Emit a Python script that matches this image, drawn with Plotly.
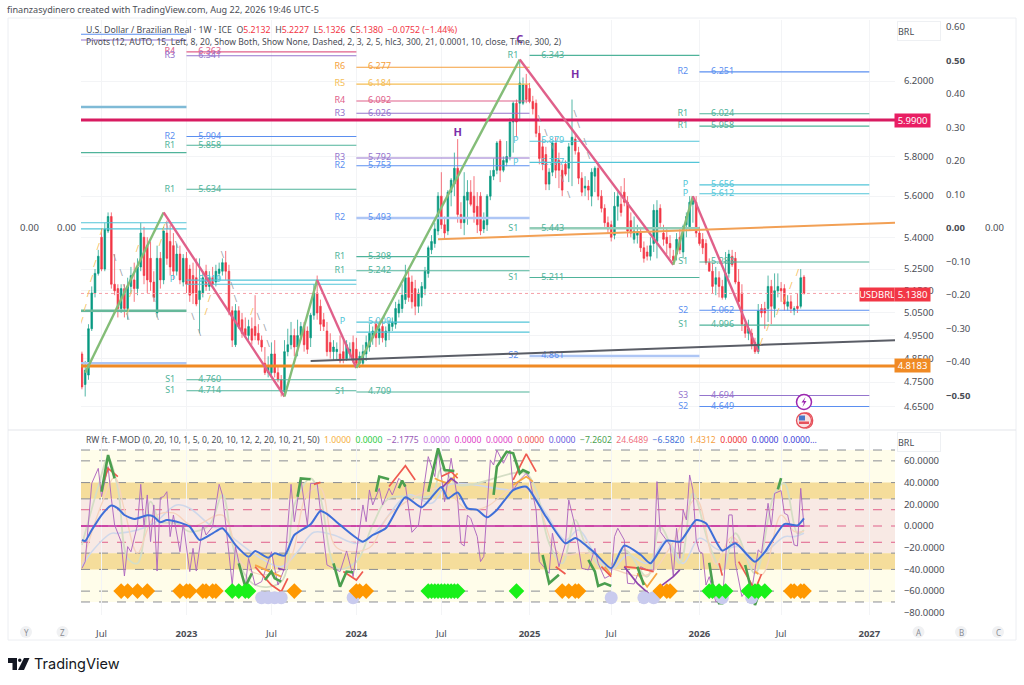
import pandas as pd
import plotly.graph_objects as go

WEEKS_START = "2022-05-23"

# Weekly candles
OPENS = [
    4.87,4.74,4.78,4.98,5.14,5.23,5.40,5.25,5.43,5.50,
    5.18,5.16,5.07,5.16,5.07,5.17,5.20,5.16,5.26,5.40,
    5.36,5.30,5.19,5.05,5.30,5.20,5.42,5.38,5.36,5.24,
    5.32,5.19,5.30,5.25,5.22,5.21,5.11,5.14,5.24,5.17,
    5.21,5.19,5.23,5.24,5.28,5.24,5.06,4.91,5.06,5.02,
    4.98,4.95,4.98,4.99,4.96,4.93,4.83,4.79,4.79,4.87,
    4.79,4.76,4.71,4.88,4.91,4.95,4.90,4.95,4.99,4.97,
    4.94,5.04,5.14,5.08,5.02,4.97,4.92,4.88,4.88,4.87,
    4.88,4.85,4.87,4.92,4.89,4.83,4.83,4.87,4.90,4.94,
    5.00,4.94,4.99,4.93,4.97,4.99,5.00,5.05,5.07,5.11,
    5.21,5.19,5.16,5.08,5.12,5.16,5.23,5.34,5.37,5.43,
    5.60,5.46,5.43,5.62,5.66,5.74,5.51,5.47,5.58,5.62,
    5.60,5.55,5.60,5.44,5.46,5.60,5.70,5.73,5.88,5.73,
    5.77,5.80,5.98,6.08,6.08,6.08,6.18,6.16,6.09,6.08,
    5.92,5.85,5.81,5.66,5.72,5.87,5.78,5.73,5.76,5.74,
    5.86,5.89,5.82,5.69,5.64,5.65,5.60,5.70,5.74,5.60,
    5.54,5.47,5.46,5.41,5.55,5.56,5.62,5.57,5.48,5.39,
    5.41,5.42,5.35,5.33,5.31,5.37,5.38,5.54,5.42,5.40,
    5.37,5.31,5.32,5.40,5.33,5.46,5.45,5.56,5.57,5.42,
    5.39,5.37,5.28,5.24,5.18,5.21,5.17,5.12,5.23,5.31,
    5.30,5.19,5.14,5.00,4.96,4.96,4.92,4.88,5.07,5.07,
    5.07,5.17,5.07,5.15,5.16,5.16,5.08,5.10,5.06,5.08,
    5.08,5.2132,
]
HIGHS = [
    4.88,4.84,5.00,5.17,5.25,5.34,5.44,5.47,5.52,5.52,
    5.32,5.18,5.18,5.18,5.21,5.26,5.28,5.30,5.47,5.45,
    5.40,5.38,5.24,5.36,5.33,5.45,5.48,5.46,5.42,5.37,
    5.36,5.32,5.33,5.27,5.28,5.30,5.30,5.24,5.27,5.24,
    5.26,5.27,5.28,5.30,5.335,5.27,5.08,5.09,5.08,5.05,
    5.03,5.02,5.03,5.13,5.00,4.95,4.90,4.86,4.92,4.93,
    4.82,4.78,4.93,4.98,5.01,4.98,5.02,5.01,5.01,4.99,
    5.05,5.18,5.22,5.11,5.05,5.01,4.96,4.93,4.92,4.95,
    4.93,4.93,4.92,4.95,4.94,4.88,4.91,4.95,5.00,4.99,
    5.02,5.01,5.02,4.99,5.02,5.03,5.10,5.11,5.18,5.27,
    5.24,5.22,5.20,5.16,5.19,5.26,5.36,5.41,5.47,5.62,
    5.72,5.50,5.63,5.69,5.82,5.89,5.57,5.72,5.68,5.68,
    5.70,5.62,5.62,5.52,5.61,5.73,5.79,5.88,5.89,5.80,
    5.88,6.00,6.09,6.10,6.31,6.22,6.24,6.19,6.12,6.10,
    5.96,5.89,5.85,5.74,5.88,5.90,5.82,5.76,5.78,5.87,
    6.10,5.92,5.85,5.72,5.70,5.68,5.74,5.75,5.76,5.63,
    5.56,5.50,5.48,5.62,5.62,5.65,5.69,5.60,5.52,5.50,
    5.46,5.45,5.38,5.36,5.40,5.56,5.58,5.56,5.46,5.44,
    5.41,5.34,5.42,5.44,5.46,5.52,5.60,5.60,5.60,5.45,
    5.42,5.39,5.30,5.28,5.26,5.24,5.20,5.33,5.34,5.34,
    5.33,5.25,5.18,5.02,5.02,4.98,4.94,5.09,5.09,5.10,
    5.22,5.20,5.23,5.23,5.19,5.18,5.13,5.13,5.08,5.14,
    5.25,5.2227,
]
LOWS = [
    4.72,4.69,4.76,4.97,5.12,5.22,5.24,5.24,5.42,5.16,
    5.13,5.03,5.05,5.03,5.02,5.14,5.10,5.13,5.24,5.18,
    5.14,5.15,5.10,5.03,5.16,5.18,5.27,5.22,5.20,5.22,
    5.18,5.17,5.14,5.10,5.09,5.08,4.96,5.12,5.15,5.15,
    5.17,5.17,5.20,5.22,5.20,5.04,4.90,4.90,4.98,4.94,
    4.94,4.93,4.91,4.93,4.91,4.88,4.78,4.77,4.77,4.77,
    4.75,4.69,4.70,4.86,4.89,4.86,4.86,4.93,4.88,4.87,
    4.90,5.02,5.02,4.97,4.97,4.86,4.85,4.84,4.84,4.83,
    4.83,4.84,4.85,4.83,4.81,4.81,4.82,4.84,4.88,4.91,
    4.90,4.91,4.92,4.90,4.93,4.97,4.98,5.03,5.05,5.09,
    5.10,5.07,5.04,5.05,5.08,5.13,5.21,5.32,5.35,5.41,
    5.44,5.39,5.41,5.55,5.60,5.47,5.44,5.41,5.46,5.55,
    5.47,5.42,5.41,5.42,5.43,5.58,5.68,5.71,5.67,5.72,
    5.75,5.78,5.82,5.90,5.99,6.07,6.08,6.08,6.02,5.90,
    5.76,5.73,5.63,5.63,5.70,5.69,5.64,5.60,5.70,5.67,
    5.65,5.81,5.66,5.60,5.60,5.58,5.55,5.62,5.58,5.52,
    5.45,5.42,5.38,5.39,5.48,5.50,5.55,5.40,5.40,5.37,
    5.37,5.33,5.28,5.29,5.29,5.33,5.30,5.44,5.36,5.32,
    5.30,5.28,5.29,5.32,5.30,5.40,5.43,5.47,5.40,5.36,
    5.32,5.27,5.24,5.14,5.13,5.12,5.11,5.11,5.21,5.26,
    5.18,5.09,4.97,4.94,4.93,4.89,4.87,4.87,5.03,4.98,
    5.01,5.00,5.03,5.12,5.10,5.06,5.06,5.05,5.04,5.05,
    5.07,5.1326,
]
CLOSES = [
    4.73,4.80,4.98,5.14,5.23,5.31,5.25,5.44,5.50,5.18,
    5.15,5.07,5.16,5.07,5.17,5.22,5.16,5.26,5.42,5.22,
    5.20,5.19,5.12,5.30,5.20,5.43,5.30,5.26,5.24,5.32,
    5.20,5.30,5.18,5.13,5.14,5.09,5.15,5.21,5.17,5.21,
    5.18,5.24,5.25,5.28,5.24,5.06,4.93,5.06,4.99,4.96,
    4.95,4.99,4.93,4.95,4.93,4.90,4.79,4.82,4.87,4.79,
    4.76,4.71,4.88,4.91,4.95,4.90,4.95,4.99,4.91,4.89,
    5.04,5.14,5.05,5.00,4.99,4.88,4.88,4.90,4.89,4.84,
    4.85,4.91,4.89,4.84,4.83,4.86,4.88,4.92,4.96,4.97,
    4.94,4.98,4.94,4.97,5.00,5.01,5.07,5.09,5.13,5.21,
    5.12,5.10,5.08,5.14,5.17,5.24,5.35,5.38,5.44,5.60,
    5.46,5.42,5.62,5.68,5.74,5.51,5.47,5.60,5.62,5.56,
    5.52,5.46,5.43,5.48,5.60,5.70,5.73,5.87,5.73,5.78,
    5.80,5.98,6.08,5.98,6.19,6.18,6.10,6.09,6.05,5.92,
    5.79,5.76,5.66,5.72,5.87,5.73,5.73,5.63,5.71,5.85,
    5.90,5.83,5.69,5.62,5.65,5.63,5.72,5.74,5.60,5.54,
    5.47,5.44,5.40,5.55,5.60,5.52,5.57,5.43,5.42,5.43,
    5.42,5.35,5.30,5.31,5.36,5.53,5.53,5.47,5.39,5.37,
    5.35,5.29,5.39,5.34,5.45,5.50,5.57,5.58,5.42,5.37,
    5.35,5.28,5.24,5.17,5.21,5.17,5.12,5.23,5.32,5.27,
    5.19,5.10,5.00,4.96,4.98,4.91,4.88,5.06,5.05,5.05,
    5.17,5.08,5.15,5.17,5.15,5.09,5.10,5.07,5.07,5.07,
    5.21,5.1380,
]

# Zigzag pivots: week number into the candles and the price
ZIGZAG_WEEKS = [1, 25, 62, 72, 84, 134, 181, 187, 207]
ZIGZAG_PRICES = [4.79, 5.52, 4.69, 5.20, 4.81, 6.32, 5.27, 5.60, 4.88]

# Small slash marks
UP_WEEKS = [0,1,2,3,4,5,6,14,15,17,24,25,38,39,52,208,210,213,215,217,219]
UP_PRICES = [5.01,5.07,5.13,5.20,5.27,5.35,5.42,5.05,5.13,5.34,5.37,5.44,5.05,5.11,5.05,4.92,4.98,5.05,5.11,5.17,5.23]
DOWN_WEEKS = [10,12,13,14,22,23,26,29,34,36,43,46,47,54,56,57,140,142,144,147,149,151,152,154,155]
DOWN_PRICES = [5.30,5.23,5.16,5.03,5.11,5.03,5.45,5.36,5.03,4.96,5.31,5.17,5.11,5.03,4.98,4.91,5.99,5.92,5.84,5.68,5.60,6.02,5.96,5.87,5.80]

# Pivot levels: which year block, name, level, printed value
PIVOT_BLOCK = [0,0,0,0,0,0,0,0,
               1,1,1,1,1,1,1,1,1,
               2,2,2,2,2,2,2,2,2,2,2,2,
               3,3,3,3,3,3,
               4,4,4,4,4,4,4,4,4,4]
PIVOT_NAME = ["R2","R3","R2","R1","P","P","S1","S2",
              "R4","R3","R2","R1","R1","P","P","S1","S1",
              "R6","R5","R4","R3","R3","R2","R2","R1","R1","P","P","S1",
              "R1","P","P","S1","S1","S2",
              "R2","R1","R1","P","P","S1","S2","S1","S3","S2"]
PIVOT_LEVEL = [6.463,6.43,6.06,5.82,5.47,5.44,5.06,4.83,
               6.363,6.341,5.904,5.858,5.634,5.199,5.18,4.760,4.714,
               6.277,6.184,6.092,6.026,5.792,5.753,5.493,5.308,5.242,5.009,4.965,4.709,
               6.343,5.879,5.77,5.443,5.211,4.861,
               6.251,6.024,5.958,5.656,5.612,5.283,5.062,4.996,4.694,4.649]
PIVOT_TEXT = ["","","","","","","","",
              "6.363","6.341","5.904","5.858","5.634","5.219","","4.760","4.714",
              "6.277","6.184","6.092","6.026","5.792","5.753","5.493","5.308","5.242","5.009","","4.709",
              "6.343","5.879","5.777","5.443","5.211","4.861",
              "6.251","6.024","5.958","5.656","5.612","5.283","5.062","4.996","4.694","4.649"]
BLOCK_STARTS = ["2022-05-21","2023-01-02","2024-01-01","2025-01-06","2026-01-05"]
BLOCK_ENDS = ["2023-01-02","2024-01-01","2025-01-06","2026-01-05","2027-01-04"]

MAIN_TICKS = [6.2,5.8,5.6,5.4,5.25,5.15,5.05,4.95,4.85,4.75,4.65]
SIDE_TICKS = [0.6,0.5,0.4,0.3,0.2,0.1,0,-0.1,-0.2,-0.3,-0.4,-0.5]
OSC_TICKS = [60,40,20,0,-20,-40,-60,-80]
OSC_LEVELS_GRAY = [70,60,25,-25,-60,-70,40,-40]
OSC_LEVELS_PINK = [15,-15,0]

TIME_TICKS = ["2022-07-04","2023-01-02","2023-07-03","2024-01-01","2024-07-01","2025-01-06",
              "2025-06-30","2026-01-05","2026-06-29","2027-01-04"]
TIME_LABELS = ["Jul","<b>2023</b>","Jul","<b>2024</b>","Jul","<b>2025</b>","Jul","<b>2026</b>","Jul","<b>2027</b>"]

# Oscillator lines
BLUE_WEEKS = [0,1,3,6,9,11,13,16,20,22,24,26,30,33,36,40,43,47,51,53,57,59,62,65,70,73,75,79,86,89,93,99,104,110,112,115,118,121,124,127,
              132,136,142,148,151,157,162,166,171,174,179,183,188,191,196,200,206,209,215,219,221]
BLUE_VALUES = [-12.9,-13.8,-3.7,10.1,18.8,16.3,10.1,6.5,9.8,8.6,3.4,5.5,3.1,-0.6,-12.9,-6.8,-2.1,-17.5,-28.3,-23,-29.2,-25.2,-27.3,-8.3,1.6,13.8,11.1,1,-14.4,-8.3,-2.1,26.4,17.2,36,25.5,30.8,16.3,14.8,8,14.8,
               33,36.2,8.6,-16,-11,-25,-39,-18,-26.5,-34.4,-13.5,-14.4,5.5,2.5,-22.7,-16,-33,-24,1.8,0.5,7.1]
PURPLE_WEEKS = [0,1,3,5,6,8,9,10,12,13,14,15,17,18,19,20,21,22,23,24,25,26,27,28,30,31,33,34,35,37,38,40,42,43,45,46,47,48,50,51,53,55,58,60,62,64,65,67,69,70,72,75,76,79,81,83,86,87,88,89,91,92,94,95,97,99,101,103,106,108,109,111,113,115,
                116,117,118,119,121,122,123,124,125,126,127,129,131,132,
                134,136,137,139,140,143,144,146,148,149,151,153,155,157,158,160,162,163,164,166,167,169,171,173,175,176,177,180,181,182,183,184,185,186,187,188,189,190,191,192,194,196,198,199,200,202,204,205,207,208,210,211,212,214,215,216,218,219,220,221]
PURPLE_VALUES = [-39,-32.9,39.3,53.1,27,54.7,25.5,0.9,-14.4,-46.1,-19,-23.7,0.9,38.4,-0.6,28.6,-14.4,19.4,-41.5,26.1,27,31.6,-9.8,10.1,-23.7,2.5,-42,-20.6,-41.5,0.9,-8.3,-0.6,38.4,28.6,-25.2,-54.4,-19,-32.9,-55.9,-29.8,-54.4,-51.3,-23.7,-54.4,-39,38.4,4,43.9,0.9,39.3,39.3,-35.9,-37.5,-42,-23,-46.7,19.4,4,33.2,19.4,34.7,19.4,34.7,28.6,43.9,37.8,-5.8,0.9,63.9,45.5,70,22.4,62.4,24,
                 -16,-18.4,10,7,-9.8,-32.8,-28,14.8,60.9,56.2,70,57.8,70,33,
                 42.4,48.6,44,14.8,-32.8,-43.6,-6.7,-37.5,-16,24,-0.6,-39,-40.5,-20.6,-34.4,-48.2,-45,-9.8,-2.1,-12.9,-52.8,-53.4,-37.5,-40.5,-40.5,40.9,-5.2,-17.5,-46.7,-2.1,-29.8,14.8,5.6,47,33.2,-12.9,-23.6,-25.2,-54.4,-46.7,-69.7,-69.7,10.2,10.2,-34.4,-65,-55.9,-59,-22,-25,20.9,-0.6,30,32.6,11.7,10.2,-17.5,-18.4,34.7,-0.6]
PALE_BLUE_WEEKS = [0,3,9,11,17,22,29,33,40,43,47,54,61,66,71,77,84,89,100,107,112,132,136,142,148,152,158,162,167,173,179,184,189,195,201,206,209,215,218,221]
PALE_BLUE_VALUES = [-37.5,-23.7,-6.8,-6.8,-3.7,2.5,19.4,16.3,-0.6,-2.2,-12.9,-28.3,-37.5,-23.7,-5.8,-8.3,-16,-8.3,28.6,20.9,37.8,33.2,36.3,11.7,-12.9,-3.7,-31.3,-40.5,-26.7,-34.4,-12.9,-34.4,-11.3,-22,-19,-31.3,-25.2,-9.8,-9.8,-6.7]
PALE_GREEN_WEEKS = [0,5,8,11,14,17,21,24,29,33,39,43,47,53,61,65,70,73,78,84,89,94,107,110,115,132,136,139,143,147,151,154,160,166,173,177,183,187,192,196,200,206,212,215,219,221]
PALE_GREEN_VALUES = [-17.5,36.3,62.4,34.7,-29.8,-34.4,22.4,4,2.5,-5.2,0.9,28.6,-26.7,-54.4,-51.3,19.4,43.9,25.5,-39,-32.9,0.9,25.5,28.6,53.1,37.8,48.6,48.6,33.2,-16,-34.4,5.6,-16,-40.5,-22,-46.7,-0.6,-34.4,30.1,-17.5,-40.5,-6.7,-43.6,30.1,39.3,-6.7,-3.7]
PEACH_WEEKS = [0,6,10,13,17,22,28,34,43,49,56,63,69,73,78,88,94,110,118,124,132,138,146,155,163,173,180,188,194,199,208,214,218,221]
PEACH_VALUES = [-35,20,45,15,-25,8,12,0,10,-35,-45,-35,30,35,-20,-20,10,35,15,18,35,30,-25,-25,-40,-45,-20,25,-35,-10,-45,10,-5,-5]

# Coloured fragments, None splits them
GREEN_WEEKS = [6,8,10,None,48,50,52,None,56,58,59,61,None,66,67,70,None,77,79,81,83,None,90,91,94,None,97,98,99,None,106,109,111,114,None,126,127,130,132,134,135,137,None,141,143,146,None,155,157,158,160,162,None,170,172,None,192,193,195,196,197,None,203,206,208,None,213,214]
GREEN_VALUES = [31.6,65.4,43.9,None,-34.4,-55.9,-43.6,None,-49.8,-42,-48.2,-51.3,None,27,43.9,43,None,-34.4,-55.9,-42,-42.7,None,31.6,45.5,43,None,34.7,41.8,36.3,None,31.6,71.6,51.6,50.7,None,28.6,54.7,68.5,67,48.6,51.6,48.6,None,-26.7,-52.8,-45,None,-31.3,-42,-55.3,-52.8,-55.3,None,-37.5,-54.4,None,-33.8,-52.8,-71.2,-71.2,-55.9,None,-35.9,-72.8,-55.9,None,33.8,44]
RED_WEEKS = [6,8,11,None,53,58,61,63,None,71,73,None,80,84,86,None,94,99,102,None,110,113,115,None,132,136,139,None,145,148,None,159,162,None,166,171,175,None,195,196,None,201,206,208]
RED_VALUES = [34.7,53.1,45.5,None,-37.5,-54.4,-60.5,-48.2,None,38.4,40.2,None,-42,-49.8,-42,None,36.3,55.6,42.4,None,45.5,50,44,None,42.4,66.4,50.1,None,-37.5,-44.2,None,-37.5,-46.7,None,-37.5,-39,-42,None,-34.4,-45.7,None,-32.8,-59,-44.2]
ORANGE_WEEKS = [53,61,None,108,109,112,115,None,132,136,138,None,160,162,None,170,173,176,None,206,207]
ORANGE_VALUES = [-36,-46.7,None,44,42.4,39.3,48.5,None,37.8,45.5,40.9,None,-37.5,-45,None,-43.6,-55.9,-43.6,None,-42,-44.2]
VIOLET_WEEKS = [60,62,None,110,113,115,None,166,170,174,177,181,183]
VIOLET_VALUES = [-39,-40.5,None,34.7,43.9,39.3,None,-37.5,-52.8,-63.6,-55.9,-46.7,-40.5]

# Signal rows under the oscillator
ORANGE_SIGNALS = [12,14,17,20,30,32,33,37,38,40,41,65,84,85,87,147,149,151,152,177,179,180,217,218,220,221]
GREEN_SIGNALS = [46,48,50,51,106,107,108,109,110,111,112,113,114,115,133,192,193,195,197,204,206,207,209]
LAVENDER_SIGNALS = [55,57,59,61,83,162,172,175,196,205]

FONT = "Noto Sans"
TEXT = "#4a4d55"
RED = "#f23645"
GREEN = "#089981"
LEVEL_COLORS = {"R1": "#4fb39a", "S1": "#4fb39a", "P": "#52c5d8", "R2": "#5b8ff0", "S2": "#5b8ff0",
                "R3": "#9575cd", "S3": "#9575cd", "R4": "#e0608a", "R5": "#f5bd55", "R6": "#f59f3d"}
# indexes of pivot lines drawn wide and pale
WIDE_PIVOTS = {2: "#7fbad6", 6: "#66b89a", 7: "#aec6f5", 23: "#aec6f5", 32: "#93cdb8", 34: "#aec6f5"}


def px_x(x):
    return x / 1024


def px_y(y):
    return 1 - y / 685


weeks = pd.date_range(WEEKS_START, periods=len(CLOSES), freq="7D")


def at(week_list):
    return [None if w is None else weeks[w] for w in week_list]


fig = go.Figure()

# Pivot lines and their labels
for i, level in enumerate(PIVOT_LEVEL):
    start = BLOCK_STARTS[PIVOT_BLOCK[i]]
    end = BLOCK_ENDS[PIVOT_BLOCK[i]]
    color = WIDE_PIVOTS.get(i, LEVEL_COLORS[PIVOT_NAME[i]])
    fig.add_trace(go.Scatter(x=[start, end], y=[level, level], mode="lines",
                             line=dict(color=color, width=2.4 if i in WIDE_PIVOTS else 1.1),
                             hoverinfo="skip", showlegend=False))
    if PIVOT_BLOCK[i] > 0 and PIVOT_TEXT[i]:
        begin = pd.Timestamp(start)
        fig.add_trace(go.Scatter(
            x=[begin - pd.Timedelta(days=24), begin + pd.Timedelta(days=25)],
            y=[level, level], mode="text", text=[PIVOT_NAME[i], PIVOT_TEXT[i]],
            textposition=["middle left", "middle right"],
            textfont=dict(family=FONT, size=9, color=LEVEL_COLORS[PIVOT_NAME[i]]),
            hoverinfo="skip", showlegend=False))

# Horizontal drawings across the pane
fig.add_trace(go.Scatter(x=["2022-05-21", "2027-02-28"], y=[5.99, 5.99], mode="lines",
                         line=dict(color="#d81b60", width=3), hoverinfo="skip", showlegend=False))
fig.add_trace(go.Scatter(x=["2022-05-21", "2027-02-28"], y=[4.8183, 4.8183], mode="lines",
                         line=dict(color="#f08a24", width=3), hoverinfo="skip", showlegend=False))
fig.add_trace(go.Scatter(x=["2022-05-21", "2027-02-28"], y=[5.138, 5.138], mode="lines",
                         line=dict(color="#f6a0a8", width=1, dash="dot"), hoverinfo="skip", showlegend=False))

# Candles
fig.add_trace(go.Candlestick(
    x=weeks, open=OPENS, high=HIGHS, low=LOWS, close=CLOSES,
    increasing=dict(line=dict(color=GREEN, width=0.7), fillcolor=GREEN),
    decreasing=dict(line=dict(color=RED, width=0.7), fillcolor=RED),
    whiskerwidth=0, hoverinfo="skip", showlegend=False))

# Zigzag, rising legs green and falling legs pink
for k in range(len(ZIGZAG_WEEKS) - 1):
    rising = ZIGZAG_PRICES[k + 1] > ZIGZAG_PRICES[k]
    fig.add_trace(go.Scatter(
        x=at(ZIGZAG_WEEKS[k:k + 2]), y=ZIGZAG_PRICES[k:k + 2], mode="lines",
        line=dict(color="#84bd78" if rising else "#e0608a", width=2.4),
        hoverinfo="skip", showlegend=False))

# Trend lines
fig.add_trace(go.Scatter(x=["2024-06-24", "2027-02-28"], y=[5.39, 5.47], mode="lines",
                         line=dict(color="#f2a055", width=2), hoverinfo="skip", showlegend=False))
fig.add_trace(go.Scatter(x=["2023-09-25", "2027-02-28"], y=[4.84, 4.93], mode="lines",
                         line=dict(color="#5a5d66", width=2), hoverinfo="skip", showlegend=False))

# Slash marks
fig.add_trace(go.Scatter(x=at(UP_WEEKS), y=UP_PRICES, mode="text", text=["/"] * len(UP_WEEKS),
                         textfont=dict(family=FONT, size=9, color="#f5bd55"),
                         hoverinfo="skip", showlegend=False))
fig.add_trace(go.Scatter(x=at(DOWN_WEEKS), y=DOWN_PRICES, mode="text", text=["\\"] * len(DOWN_WEEKS),
                         textfont=dict(family=FONT, size=9, color="#9a9da5"),
                         hoverinfo="skip", showlegend=False))

# H and C labels
fig.add_trace(go.Scatter(x=at([115, 151, 134]), y=[5.92, 6.23, 6.43], mode="text", text=["<b>H</b>", "<b>H</b>", "<b>C</b>"],
                         textfont=dict(family=FONT, size=11, color="#7b2fa8"),
                         hoverinfo="skip", showlegend=False))

# Invisible trace so the side scale is drawn
fig.add_trace(go.Scatter(x=at([0, 1]), y=[0, 0], yaxis="y3", mode="lines",
                         line=dict(width=0, color="rgba(0,0,0,0)"), hoverinfo="skip", showlegend=False))

# Oscillator pane
osc_style = dict(xaxis="x2", yaxis="y2", hoverinfo="skip", showlegend=False)
fig.add_trace(go.Scatter(x=at(PALE_BLUE_WEEKS), y=PALE_BLUE_VALUES, mode="lines",
                         line=dict(color="#cfd8ea", width=1.6, shape="spline"), **osc_style))
fig.add_trace(go.Scatter(x=at(PALE_GREEN_WEEKS), y=PALE_GREEN_VALUES, mode="lines",
                         line=dict(color="#d5dec5", width=1.8, shape="spline"), **osc_style))
fig.add_trace(go.Scatter(x=at(PEACH_WEEKS), y=PEACH_VALUES, mode="lines",
                         line=dict(color="#f6d3bd", width=1.3, shape="spline"), **osc_style))
fig.add_trace(go.Scatter(x=["2022-05-21", "2026-08-17"], y=[0, 0], mode="lines",
                         line=dict(color="#c026a0", width=1.4), **osc_style))
fig.add_trace(go.Scatter(x=at(PURPLE_WEEKS), y=PURPLE_VALUES, mode="lines",
                         line=dict(color="#ae67bf", width=0.95), **osc_style))
fig.add_trace(go.Scatter(x=at(ORANGE_WEEKS), y=ORANGE_VALUES, mode="lines",
                         line=dict(color="#f7a543", width=1.8), connectgaps=False, **osc_style))
fig.add_trace(go.Scatter(x=at(RED_WEEKS), y=RED_VALUES, mode="lines",
                         line=dict(color="#ef5a50", width=1.7), connectgaps=False, **osc_style))
fig.add_trace(go.Scatter(x=at(VIOLET_WEEKS), y=VIOLET_VALUES, mode="lines",
                         line=dict(color="#8e44ad", width=1.7), connectgaps=False, **osc_style))
fig.add_trace(go.Scatter(x=at(GREEN_WEEKS), y=GREEN_VALUES, mode="lines",
                         line=dict(color="#4b9f4f", width=2.6), connectgaps=False, **osc_style))
fig.add_trace(go.Scatter(x=at(BLUE_WEEKS), y=BLUE_VALUES, mode="lines",
                         line=dict(color="#3f6fd8", width=2, shape="spline", smoothing=0.6), **osc_style))
fig.add_trace(go.Scatter(x=at(LAVENDER_SIGNALS), y=[-66] * len(LAVENDER_SIGNALS), mode="markers",
                         marker=dict(symbol="circle", size=13, color="#c9cbee"), **osc_style))
fig.add_trace(go.Scatter(x=at(ORANGE_SIGNALS), y=[-60] * len(ORANGE_SIGNALS), mode="markers",
                         marker=dict(symbol="diamond", size=12, color="#ff9800"), **osc_style))
fig.add_trace(go.Scatter(x=at(GREEN_SIGNALS), y=[-60] * len(GREEN_SIGNALS), mode="markers",
                         marker=dict(symbol="diamond", size=12, color="#19f019"), **osc_style))

shapes = []
# Bands behind the oscillator
for low, high, color in [(-70, 70, "#fffdea"), (-25, 25, "#f8e9e4"), (25, 40, "#f5dd9b"), (-40, -25, "#f5dd9b")]:
    shapes.append(dict(type="rect", xref="x2", yref="y2", x0="2022-05-21", x1="2027-02-28", y0=low, y1=high,
                       fillcolor=color, line_width=0, layer="below"))
for v in OSC_LEVELS_GRAY:
    shapes.append(dict(type="line", xref="x2", yref="y2", x0="2022-05-21", x1="2027-02-28", y0=v, y1=v,
                       line=dict(color="#8a8d94", width=1, dash="dash"), layer="below"))
for v in OSC_LEVELS_PINK:
    shapes.append(dict(type="line", xref="x2", yref="y2", x0="2022-05-21", x1="2027-02-28", y0=v, y1=v,
                       line=dict(color="#e0608a", width=1, dash="dash"), layer="below"))

# Frame of the chart and the pane divider
shapes.append(dict(type="rect", xref="paper", yref="paper", x0=px_x(8), x1=px_x(1016), y0=px_y(640), y1=px_y(18),
                   line=dict(color="#eceef2", width=1), layer="below"))
shapes.append(dict(type="line", xref="paper", yref="paper", x0=px_x(8), x1=px_x(1016), y0=px_y(430), y1=px_y(430),
                   line=dict(color="#e3e5ea", width=1), layer="below"))

# Round buttons under the scales
for cx in [26, 62.5, 918.5, 961, 998]:
    shapes.append(dict(type="circle", xref="paper", yref="paper", x0=px_x(cx - 6), x1=px_x(cx + 6),
                       y0=px_y(638), y1=px_y(626), fillcolor="#f0f1f3", line_width=0, layer="below"))

# Event badges near the last candle
shapes.append(dict(type="circle", xref="paper", yref="paper", x0=px_x(796.5), x1=px_x(811.5),
                   y0=px_y(409.5), y1=px_y(394.5), fillcolor="white", line=dict(color="#9c27b0", width=1.5)))
shapes.append(dict(type="path", xref="paper", yref="paper", fillcolor="#9c27b0", line_width=0,
                   path=f"M {px_x(805.5)} {px_y(397)} L {px_x(801.5)} {px_y(402.5)} L {px_x(804)} {px_y(402.5)} "
                        f"L {px_x(802.5)} {px_y(407)} L {px_x(806.5)} {px_y(401)} L {px_x(804)} {px_y(401)} Z"))
for offset in [4, 0]:
    shapes.append(dict(type="circle", xref="paper", yref="paper", x0=px_x(796.5 + offset), x1=px_x(811.5 + offset * 0.3),
                       y0=px_y(428), y1=px_y(413), fillcolor="#f9e1e1", line=dict(color="#e6505a", width=1.3)))
shapes.append(dict(type="rect", xref="paper", yref="paper", x0=px_x(799), x1=px_x(809), y0=px_y(424), y1=px_y(421.5),
                   fillcolor="#e6505a", line_width=0))
shapes.append(dict(type="rect", xref="paper", yref="paper", x0=px_x(799), x1=px_x(805), y0=px_y(420.5), y1=px_y(415.5),
                   fillcolor="#4a78c8", line_width=0))

# TradingView logo
shapes.append(dict(type="path", xref="paper", yref="paper", fillcolor="#131722", line_width=0,
                   path=f"M {px_x(8)} {px_y(658)} L {px_x(17)} {px_y(658)} L {px_x(17)} {px_y(670)} L {px_x(12.5)} {px_y(670)} "
                        f"L {px_x(12.5)} {px_y(663)} L {px_x(8)} {px_y(663)} Z"))
shapes.append(dict(type="circle", xref="paper", yref="paper", fillcolor="#131722", line_width=0,
                   x0=px_x(18), x1=px_x(21.5), y0=px_y(662), y1=px_y(658.5)))
shapes.append(dict(type="path", xref="paper", yref="paper", fillcolor="#131722", line_width=0,
                   path=f"M {px_x(24)} {px_y(658)} L {px_x(29.5)} {px_y(658)} L {px_x(24)} {px_y(670)} L {px_x(18)} {px_y(670)} Z"))


def note(text, x, y, size=9.5, color=TEXT, anchor="left", family=FONT, **kwargs):
    return dict(text=text, xref="paper", yref="paper", x=px_x(x), y=px_y(y), xanchor=anchor, yanchor="middle",
                showarrow=False, font=dict(family=family, size=size, color=color), **kwargs)


def span(text, color):
    return f'<span style="color:{color}">{text}</span>'


header = ("U.S. Dollar / Brazilian Real · 1W · ICE  O" + span("5.2132", RED) + "  H" + span("5.2227", RED)
          + "  L" + span("5.1326", RED) + "  C" + span("5.1380  −0.0752 (−1.44%)", RED))
pivots_line = ("Pivots (12, AUTO, 15, Left, 8, 20, Show Both, Show None, Dashed, 2, 3, 2, 5, hlc3, 300, 21, "
               "0.0001, 10, close, Time, 300, 2)")
osc_line = ("RW ft. F-MOD (0, 20, 10, 1, 5, 0, 20, 10, 12, 2, 20, 10, 21, 50)  "
            + span("1.0000", "#f5b041") + "  " + span("0.0000", "#2ecc40") + "  " + span("−2.1775", "#9b59b6") + "  "
            + span("0.0000", "#c56be0") + "  " + span("0.0000", "#e040c8") + "  " + span("0.0000", "#e040c8") + "  "
            + span("0.0000", "#ef5350") + "  " + span("0.0000", "#6a5be0") + "  " + span("−7.2602", "#4b9f4f") + "  "
            + span("24.6489", "#ef7080") + "  " + span("−6.5820", "#3f6fd8") + "  " + span("1.4312", "#f5a040") + "  "
            + span("0.0000", "#ef3030") + "  " + span("0.0000", "#4040d8") + "  " + span("0.0000...", "#4040d8"))

annotations = [
    note("finanzasydinero created with TradingView.com, Aug 22, 2026 19:46 UTC-5", 5, 10, size=9.1),
    note(header, 84, 30, size=8.75),
    note(pivots_line, 84, 42, size=8.57),
    note(osc_line, 84, 440, size=8.6),
    note("0.00", 29, 228, size=9.5, anchor="center"),
    note("0.00", 66, 228, size=9.5, anchor="center"),
    note("0.00", 994, 228, size=9.5, anchor="center"),
    note("BRL", 897, 31, size=9, bgcolor="white", bordercolor="#eef0f3", borderwidth=1, borderpad=0,
         width=42, height=18, align="left"),
    note("BRL", 897, 442, size=9, bgcolor="white", bordercolor="#eef0f3", borderwidth=1, borderpad=0,
         width=42, height=18, align="left"),
    note("TradingView", 32, 664, size=14.5, color="#131722", family="Inter"),
]
for label, cx in [("Y", 26), ("Z", 62.5), ("A", 918.5), ("B", 961), ("C", 998)]:
    annotations.append(note(label, cx, 632, size=8, color="#8a8d94", anchor="center"))
for label, x0, w, y, color in [("5.9900", 895, 35, 120, "#e91e63"), ("USDBRL", 860, 34, 294, RED),
                               ("5.1380", 895, 35, 294, RED), ("4.8183", 895, 35, 366, "#f08a24")]:
    annotations.append(note(label, x0 + w / 2, y, size=9.5, color="white", anchor="center", bgcolor=color,
                            width=w, height=13, borderpad=0))

side_text = []
for v in SIDE_TICKS:
    label = f"{v:.2f}".replace("-", "−")
    side_text.append(f"<b>{label}</b>" if v in (0.5, 0, -0.5) else label)

fig.update_layout(
    width=1024,
    height=685,
    margin=dict(l=0, r=0, t=0, b=0, pad=0, autoexpand=False),
    paper_bgcolor="white",
    plot_bgcolor="white",
    showlegend=False,
    shapes=shapes,
    annotations=annotations,
    font=dict(family=FONT, size=9.5, color=TEXT),
    xaxis=dict(domain=[px_x(81), px_x(895)], range=["2022-05-21", "2027-02-28"], anchor="y", type="date",
               rangeslider=dict(visible=False), showticklabels=False, ticks="",
               tickvals=TIME_TICKS, showgrid=True, gridcolor="#f3f4f6", zeroline=False),
    xaxis2=dict(domain=[px_x(81), px_x(895)], range=["2022-05-21", "2027-02-28"], anchor="y2", type="date",
                tickvals=TIME_TICKS, ticktext=TIME_LABELS, ticks="outside", ticklen=10, tickcolor="rgba(0,0,0,0)",
                showgrid=True, gridcolor="#f3f4f6", zeroline=False, tickfont=dict(family=FONT, size=9.5, color=TEXT)),
    yaxis=dict(domain=[px_y(430), px_y(20)], type="log", range=[0.6583, 0.8159], side="right", anchor="x",
               tickvals=MAIN_TICKS, ticktext=[f"{t:.4f}" for t in MAIN_TICKS], ticks="outside", ticklen=6,
               tickcolor="rgba(0,0,0,0)", showgrid=True, gridcolor="#f3f4f6", zeroline=False,
               tickfont=dict(family=FONT, size=9.5, color=TEXT)),
    yaxis2=dict(domain=[px_y(615), px_y(432)], range=[-82, 86.6], side="right", anchor="x2",
                tickvals=OSC_TICKS, ticktext=[f"{t:.4f}".replace("-", "−") for t in OSC_TICKS], ticks="outside",
                ticklen=6, tickcolor="rgba(0,0,0,0)", showgrid=False, zeroline=False,
                tickfont=dict(family=FONT, size=9.5, color=TEXT)),
    yaxis3=dict(overlaying="y", side="right", anchor="free", position=px_x(945), range=[-0.603, 0.621],
                tickvals=SIDE_TICKS, ticktext=side_text, showgrid=False, zeroline=False,
                tickfont=dict(family=FONT, size=9.5, color=TEXT)),
)

fig.write_html("out.html", config=dict(displayModeBar=False),
               post_script="document.body.style.margin='0';document.documentElement.style.overflow='hidden';")
